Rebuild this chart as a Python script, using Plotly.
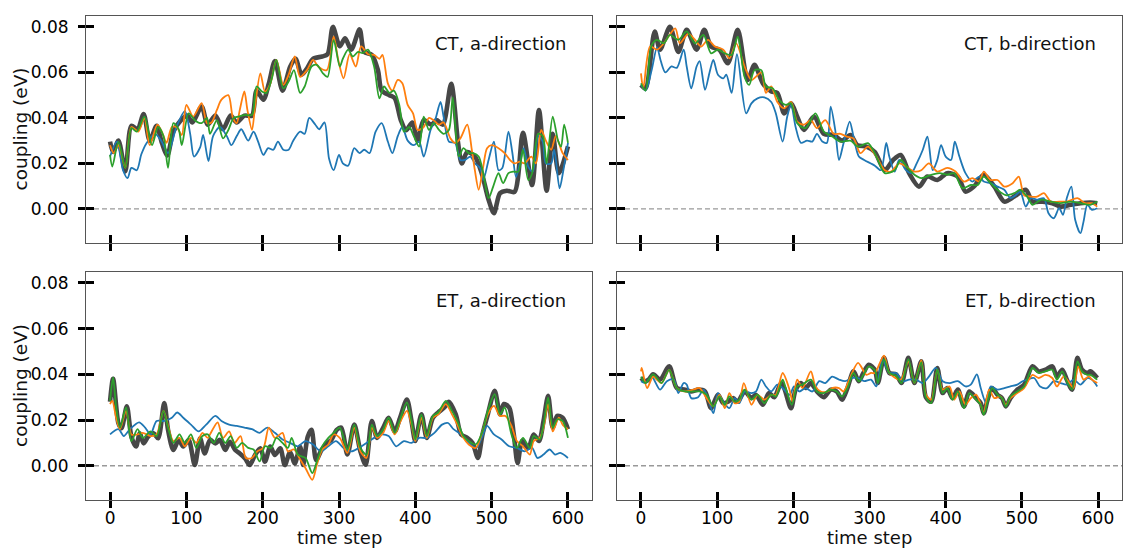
import numpy as np
import plotly.graph_objects as go

# ---------------- data (time step, coupling in meV) ----------------
# CT, a-direction
CT_A_REF_T = [0, 4, 11, 20, 28, 36, 44, 52, 61, 68, 75, 83, 93, 101, 108, 120, 128, 138, 148, 158, 166, 176, 186, 192, 201, 208, 216, 226, 236, 243, 251, 258, 266, 278, 285, 292, 301, 308, 316, 327, 333, 343, 351, 356, 366, 373, 381, 388, 396, 403, 411, 421, 428, 436, 447, 456, 461, 468, 478, 487, 496, 503, 511, 520, 530, 541, 553, 562, 572, 580, 588, 600]
CT_A_REF_V = [29.6, 25.0, 30.0, 16.5, 36.5, 35.0, 41.7, 30.0, 36.5, 29.0, 23.5, 34.0, 39.0, 41.0, 38.0, 45.0, 37.0, 41.0, 35.0, 41.0, 38.0, 41.0, 41.0, 52.0, 48.0, 55.0, 65.0, 52.0, 62.5, 66.0, 59.0, 61.7, 66.0, 67.0, 68.0, 80.0, 71.5, 75.0, 70.0, 78.9, 69.0, 67.7, 61.0, 52.0, 50.0, 48.7, 39.0, 34.6, 38.0, 30.0, 39.0, 37.0, 39.0, 37.0, 55.0, 29.0, 20.0, 25.0, 23.0, 15.7, 4.0, -1.9, 6.9, 8.0, 7.5, 33.5, 10.5, 43.5, 8.0, 33.0, 15.7, 27.5]
CT_A_S1_T = [0, 9, 17, 23, 28, 35, 41, 48, 59, 67, 76, 87, 98, 105, 110, 118, 122, 129, 135, 144, 153, 159, 166, 172, 181, 188, 194, 201, 207, 214, 220, 227, 234, 240, 249, 255, 261, 269, 274, 281, 287, 293, 300, 305, 312, 320, 327, 333, 340, 348, 356, 364, 370, 377, 383, 390, 398, 405, 411, 420, 426, 433, 437, 444, 452, 459, 465, 472, 478, 485, 489, 496, 503, 509, 514, 522, 527, 532, 537, 542, 548, 554, 561, 567, 571, 578, 582, 589, 594, 600]
CT_A_S1_V = [23.0, 29.6, 17.0, 13.5, 18.0, 17.0, 24.0, 29.0, 33.0, 30.0, 24.5, 36.0, 43.0, 33.0, 23.0, 27.0, 32.5, 21.0, 32.0, 36.0, 32.0, 28.0, 32.0, 35.0, 30.0, 34.0, 29.6, 23.7, 26.7, 26.0, 29.6, 26.0, 26.0, 30.0, 34.0, 33.0, 40.0, 37.0, 35.0, 38.0, 22.0, 17.0, 23.7, 20.0, 19.0, 26.7, 24.5, 26.0, 24.5, 34.0, 37.7, 29.6, 24.5, 32.0, 36.0, 30.0, 28.0, 29.6, 23.0, 34.7, 39.0, 47.0, 40.6, 29.6, 29.0, 21.5, 21.5, 23.0, 20.0, 17.9, 12.7, 21.5, 29.6, 17.0, 18.0, 34.0, 25.0, 14.0, 20.0, 26.7, 18.6, 16.4, 32.0, 29.6, 20.0, 20.0, 26.0, 9.0, 17.0, 29.0]
CT_A_S2_T = [0, 5, 11, 20, 28, 37, 45, 52, 62, 69, 74, 81, 87, 94, 100, 109, 120, 127, 133, 140, 146, 155, 161, 166, 170, 176, 180, 186, 190, 197, 203, 210, 218, 227, 234, 242, 249, 258, 266, 273, 284, 293, 299, 306, 314, 322, 329, 338, 346, 353, 357, 364, 370, 377, 383, 390, 397, 403, 411, 418, 424, 431, 437, 446, 452, 459, 468, 474, 478, 483, 489, 494, 500, 509, 517, 524, 530, 537, 543, 552, 558, 565, 571, 578, 584, 593, 600]
CT_A_S2_V = [28.0, 24.5, 28.0, 18.0, 36.0, 34.0, 40.0, 28.0, 37.0, 33.0, 29.0, 36.0, 36.0, 32.5, 45.7, 40.6, 46.5, 37.7, 38.0, 43.5, 48.0, 50.0, 40.0, 37.7, 43.5, 51.6, 43.5, 34.7, 45.0, 59.6, 51.6, 55.0, 65.5, 54.5, 59.0, 67.0, 58.0, 61.0, 65.5, 62.5, 61.0, 75.7, 65.5, 57.4, 68.0, 62.6, 71.4, 68.0, 67.7, 66.0, 67.7, 55.2, 52.0, 56.7, 55.2, 45.7, 42.0, 34.7, 36.0, 40.0, 39.0, 37.0, 38.0, 31.0, 29.0, 31.0, 37.0, 26.0, 17.0, 8.4, 18.6, 26.7, 28.0, 26.7, 24.5, 21.5, 20.0, 20.8, 20.0, 23.0, 20.0, 34.7, 30.0, 26.0, 32.0, 24.5, 21.5]
CT_A_S3_T = [0, 3, 11, 20, 28, 35, 45, 55, 63, 70, 76, 83, 90, 94, 103, 111, 120, 127, 131, 140, 148, 155, 162, 168, 177, 186, 192, 199, 205, 212, 218, 227, 234, 241, 249, 255, 264, 271, 279, 285, 293, 301, 305, 312, 318, 325, 331, 338, 346, 353, 359, 366, 372, 379, 385, 392, 398, 405, 411, 418, 424, 431, 437, 444, 449, 457, 463, 470, 476, 483, 489, 496, 502, 509, 515, 522, 528, 535, 541, 548, 553, 561, 567, 572, 580, 587, 591, 595, 600]
CT_A_S3_V = [23.7, 18.6, 29.6, 18.0, 35.5, 34.0, 40.6, 28.0, 36.0, 32.0, 18.0, 37.7, 35.0, 28.0, 42.0, 39.0, 37.7, 40.0, 33.0, 39.0, 31.0, 34.7, 40.0, 40.6, 41.3, 41.3, 53.8, 51.6, 51.0, 57.4, 65.5, 53.0, 56.0, 61.0, 51.0, 53.8, 62.6, 63.3, 59.6, 58.0, 74.3, 62.6, 66.0, 70.0, 67.0, 69.0, 68.5, 70.0, 62.6, 48.6, 53.8, 51.0, 52.0, 45.7, 34.0, 36.0, 32.0, 27.4, 40.6, 34.7, 37.7, 34.7, 33.0, 34.7, 49.0, 23.0, 26.7, 24.5, 24.5, 23.0, 15.7, 4.7, 9.8, 15.7, 11.3, 15.7, 16.4, 16.4, 26.0, 12.7, 15.7, 33.0, 32.0, 20.0, 40.6, 30.0, 27.4, 37.0, 29.0]

# CT, b-direction
CT_B_REF_T = [0, 6, 18, 25, 38, 49, 60, 73, 83, 92, 103, 114, 127, 140, 149, 160, 171, 179, 188, 197, 205, 214, 227, 240, 253, 264, 275, 284, 296, 307, 320, 331, 341, 352, 365, 376, 389, 402, 416, 426, 437, 450, 464, 477, 490, 505, 514, 527, 540, 551, 564, 577, 590, 599]
CT_B_REF_V = [54.5, 53.0, 78.0, 70.0, 80.0, 69.0, 78.7, 70.0, 78.7, 71.4, 70.0, 64.0, 78.7, 56.7, 63.3, 55.2, 51.6, 51.0, 42.0, 46.4, 40.6, 34.7, 40.6, 33.0, 32.5, 30.0, 32.5, 28.0, 27.4, 25.0, 17.0, 21.5, 23.7, 15.7, 9.8, 14.2, 12.7, 15.7, 14.2, 7.6, 9.8, 15.0, 9.8, 3.2, 5.4, 8.4, 3.2, 3.2, 2.5, 1.0, 1.8, 2.5, 2.8, 2.5]
CT_B_S1_T = [0, 6, 14, 21, 26, 32, 40, 47, 56, 60, 66, 73, 77, 84, 90, 95, 101, 108, 112, 119, 126, 138, 145, 153, 162, 171, 177, 186, 192, 197, 203, 210, 218, 225, 231, 238, 244, 249, 255, 260, 266, 274, 279, 286, 293, 307, 315, 322, 326, 333, 339, 348, 355, 362, 370, 376, 383, 389, 394, 400, 407, 412, 418, 426, 435, 444, 450, 459, 468, 477, 485, 492, 498, 505, 512, 520, 529, 535, 542, 549, 554, 559, 565, 570, 577, 581, 586, 592, 599]
CT_B_S1_V = [54.5, 52.0, 61.0, 71.0, 65.0, 60.0, 62.6, 62.0, 70.0, 62.6, 53.0, 62.6, 65.0, 52.3, 60.0, 65.5, 59.0, 57.4, 59.0, 51.0, 68.0, 42.0, 46.4, 48.6, 49.0, 47.0, 42.0, 29.6, 40.6, 45.7, 36.0, 29.0, 30.0, 29.6, 33.0, 29.6, 29.0, 45.0, 34.7, 21.5, 29.0, 38.4, 31.8, 23.0, 21.5, 19.0, 17.0, 29.0, 23.0, 16.4, 21.5, 17.0, 15.7, 20.0, 26.0, 31.8, 17.0, 21.5, 28.0, 23.0, 21.5, 29.6, 23.0, 15.7, 12.0, 14.2, 12.0, 11.3, 9.8, 8.4, 4.7, 6.0, 7.6, 1.0, 4.7, 4.0, 4.7, -1.9, -4.1, 0.3, -2.6, 4.7, 9.8, -4.8, -10.7, -5.6, 1.8, -0.4, 0.3]
CT_B_S2_T = [0, 3, 12, 21, 30, 45, 51, 62, 71, 79, 88, 97, 108, 116, 125, 136, 145, 158, 164, 171, 179, 188, 197, 205, 214, 223, 231, 242, 253, 262, 270, 279, 288, 298, 309, 320, 328, 339, 348, 359, 368, 378, 389, 402, 413, 424, 435, 444, 450, 459, 468, 477, 488, 496, 503, 512, 520, 529, 538, 549, 559, 573, 583, 592, 599]
CT_B_S2_V = [59.6, 53.0, 71.4, 70.0, 72.8, 79.4, 72.8, 77.0, 74.3, 71.4, 74.3, 71.4, 70.0, 66.2, 72.8, 62.6, 56.7, 60.0, 51.0, 53.8, 47.0, 44.2, 47.0, 38.4, 37.0, 39.0, 35.5, 39.0, 33.0, 33.0, 31.8, 31.0, 24.5, 27.4, 23.0, 17.0, 16.4, 20.0, 18.6, 16.4, 17.0, 20.0, 16.4, 18.0, 16.4, 12.0, 13.5, 12.0, 16.4, 12.7, 12.7, 9.8, 11.3, 14.2, 6.0, 5.4, 5.4, 6.9, 3.2, 3.2, 3.2, 4.7, 2.5, 2.5, 1.0]
CT_B_S3_T = [0, 6, 14, 21, 30, 38, 49, 60, 71, 82, 92, 101, 110, 119, 127, 136, 142, 149, 158, 164, 173, 181, 190, 197, 205, 216, 229, 240, 251, 262, 275, 285, 298, 309, 320, 333, 341, 350, 359, 368, 381, 392, 402, 411, 422, 433, 442, 450, 459, 468, 479, 490, 498, 507, 514, 525, 538, 551, 564, 577, 590, 599]
CT_B_S3_V = [55.2, 52.0, 72.0, 74.3, 72.8, 76.5, 74.3, 78.0, 72.8, 76.5, 68.4, 70.0, 68.4, 67.7, 75.7, 58.0, 54.5, 61.0, 61.0, 53.8, 53.0, 48.0, 45.7, 46.4, 37.7, 35.5, 42.0, 34.0, 31.8, 29.6, 30.0, 27.4, 28.9, 23.0, 15.7, 17.0, 21.5, 18.0, 15.0, 13.5, 15.0, 15.7, 15.0, 15.7, 9.1, 10.5, 10.5, 14.2, 11.3, 8.4, 6.0, 6.9, 8.4, 5.4, 1.8, 4.0, 3.2, 2.5, 3.2, 2.5, 1.8, 3.2]

# ET, a-direction
ET_A_REF_T = [0, 4, 11, 15, 22, 28, 34, 39, 44, 50, 57, 63, 71, 76, 83, 90, 96, 103, 111, 118, 124, 131, 138, 144, 151, 157, 164, 170, 177, 183, 190, 197, 203, 210, 216, 223, 229, 236, 242, 249, 253, 259, 264, 270, 277, 284, 290, 297, 303, 311, 320, 328, 335, 343, 350, 358, 365, 373, 380, 389, 395, 400, 408, 415, 423, 430, 438, 444, 453, 460, 468, 475, 482, 488, 495, 504, 511, 516, 523, 529, 534, 540, 548, 555, 562, 568, 574, 580, 586, 593, 600]
ET_A_REF_V = [28.0, 38.0, 18.6, 16.4, 26.0, 12.7, 8.4, 14.2, 9.8, 12.7, 14.2, 12.0, 27.4, 15.7, 6.9, 11.3, 8.4, 11.3, 0.3, 12.0, 5.4, 11.3, 9.8, 11.3, 6.9, 10.5, 6.9, 5.4, 3.2, 0.3, 4.7, 7.6, 1.8, 8.4, 4.7, 7.6, 0.3, 6.0, 1.0, 8.4, 0.3, 12.7, 15.7, 2.5, 6.9, 9.8, 11.3, 15.7, 16.7, 4.9, 18.0, 6.3, 0.4, 19.6, 12.2, 16.7, 21.0, 15.0, 21.0, 29.0, 19.6, 10.8, 22.5, 12.2, 21.0, 23.3, 25.5, 28.0, 22.5, 13.7, 12.2, 10.0, 3.4, 13.7, 22.5, 32.8, 22.5, 27.0, 25.5, 13.7, 1.2, 10.8, 7.8, 13.7, 10.8, 19.6, 30.6, 16.7, 21.8, 21.0, 16.0]
ET_A_S1_T = [0, 11, 18, 26, 38, 46, 53, 61, 71, 81, 88, 96, 106, 116, 126, 138, 146, 156, 166, 176, 186, 196, 206, 216, 226, 236, 246, 256, 266, 276, 286, 296, 306, 316, 326, 336, 346, 355, 365, 375, 385, 395, 405, 415, 425, 435, 443, 450, 460, 470, 480, 488, 494, 503, 513, 523, 533, 543, 553, 560, 568, 576, 583, 590, 600]
ET_A_S1_V = [13.7, 16.0, 13.0, 16.0, 19.0, 16.7, 13.7, 19.6, 19.6, 21.0, 23.3, 21.0, 18.0, 15.0, 18.0, 21.8, 19.6, 18.0, 17.4, 16.7, 16.0, 14.4, 16.7, 14.4, 11.5, 10.0, 8.5, 10.8, 9.3, 6.3, 8.5, 10.8, 7.8, 6.3, 7.8, 10.0, 12.2, 13.7, 13.0, 8.5, 10.8, 10.0, 12.2, 12.2, 14.4, 18.0, 18.7, 16.0, 13.7, 10.0, 7.8, 13.0, 17.4, 13.7, 11.5, 8.5, 7.8, 6.3, 7.8, 3.4, 4.9, 7.1, 4.9, 5.6, 3.4]
ET_A_S2_T = [0, 3, 8, 13, 21, 28, 36, 43, 53, 61, 70, 76, 83, 91, 98, 106, 113, 121, 128, 133, 141, 148, 156, 163, 171, 178, 186, 193, 201, 208, 216, 226, 233, 241, 248, 256, 265, 271, 278, 286, 293, 301, 311, 320, 328, 336, 343, 350, 358, 365, 373, 380, 389, 395, 400, 408, 415, 423, 430, 440, 448, 455, 463, 470, 479, 488, 495, 503, 511, 518, 526, 533, 541, 550, 555, 563, 568, 574, 580, 588, 593, 600]
ET_A_S2_V = [27.0, 28.4, 21.0, 16.0, 24.0, 13.7, 13.7, 14.4, 13.0, 13.7, 24.0, 17.4, 10.8, 12.2, 8.5, 12.2, 10.0, 14.4, 12.2, 15.0, 19.0, 12.2, 15.0, 10.0, 13.0, 3.4, 3.4, 6.3, 7.8, 16.7, 12.2, 14.4, 6.3, 7.1, 3.4, -1.0, -6.2, 0.4, 7.1, 9.3, 13.7, 12.2, 5.6, 16.7, 6.3, 3.4, 16.7, 12.2, 14.4, 19.6, 13.7, 19.0, 24.0, 18.0, 10.8, 21.0, 12.2, 21.0, 22.5, 27.0, 22.5, 18.0, 12.2, 9.3, 7.8, 15.0, 22.5, 26.2, 21.8, 21.8, 17.4, 10.8, 8.5, 4.9, 10.8, 12.2, 16.7, 27.0, 15.0, 21.0, 18.0, 16.0]
ET_A_S3_T = [0, 4, 8, 13, 21, 28, 36, 43, 53, 61, 70, 76, 83, 91, 98, 106, 113, 121, 128, 136, 143, 151, 158, 166, 173, 181, 188, 196, 203, 211, 218, 226, 233, 238, 246, 256, 265, 271, 278, 286, 293, 301, 311, 320, 328, 336, 343, 350, 358, 365, 373, 380, 389, 395, 400, 408, 415, 423, 430, 440, 448, 455, 463, 470, 479, 488, 495, 504, 511, 517, 526, 533, 541, 550, 555, 563, 568, 574, 580, 586, 593, 600]
ET_A_S3_V = [28.4, 38.7, 25.5, 16.7, 25.5, 10.8, 16.0, 12.2, 15.0, 13.0, 24.0, 16.7, 10.0, 13.7, 10.0, 13.7, 7.8, 13.0, 13.7, 10.0, 14.4, 10.0, 13.0, 7.8, 10.0, 7.8, 7.1, 1.9, 8.5, 7.8, 12.2, 10.0, 7.8, 12.2, 4.9, 3.4, -3.2, 1.9, 8.5, 12.2, 14.4, 16.7, 7.1, 18.0, 7.8, 4.9, 18.0, 13.0, 16.0, 21.0, 14.4, 20.3, 27.7, 19.6, 11.5, 22.5, 13.0, 21.8, 23.3, 28.4, 24.0, 19.6, 13.0, 10.8, 9.3, 15.0, 24.0, 31.3, 22.5, 25.5, 13.7, 7.8, 12.2, 7.8, 13.0, 11.5, 18.0, 29.8, 16.7, 20.3, 19.6, 12.2]

# ET, b-direction
ET_B_REF_T = [0, 6, 10, 16, 25, 37, 47, 58, 66, 75, 84, 92, 101, 108, 114, 121, 127, 136, 145, 151, 160, 168, 175, 184, 188, 197, 203, 210, 216, 223, 231, 240, 249, 257, 264, 271, 279, 286, 292, 299, 307, 311, 319, 326, 335, 342, 351, 359, 368, 374, 381, 389, 396, 402, 409, 416, 424, 431, 440, 446, 450, 455, 461, 468, 474, 479, 485, 494, 503, 514, 522, 531, 540, 546, 553, 559, 566, 573, 579, 586, 590, 599]
ET_B_REF_V = [38.4, 37.0, 37.7, 40.0, 37.7, 43.5, 34.0, 33.3, 32.5, 33.3, 32.5, 25.2, 31.0, 27.4, 28.0, 29.6, 28.0, 32.5, 29.6, 31.0, 26.7, 31.8, 30.0, 36.2, 34.0, 25.2, 33.3, 36.2, 34.0, 36.2, 32.5, 30.0, 33.3, 32.5, 28.9, 34.0, 41.3, 37.0, 40.6, 44.2, 42.0, 36.2, 47.2, 40.6, 40.0, 36.2, 47.2, 36.2, 45.7, 30.0, 28.0, 42.8, 31.8, 34.0, 29.6, 33.3, 26.0, 32.5, 29.6, 27.4, 23.0, 28.9, 34.0, 31.0, 29.6, 26.0, 29.6, 33.3, 35.5, 43.5, 41.3, 42.0, 43.5, 39.0, 42.0, 37.7, 33.3, 47.2, 42.0, 40.6, 41.3, 38.4]
ET_B_S1_T = [0, 6, 14, 25, 34, 43, 49, 56, 60, 66, 75, 82, 88, 95, 101, 108, 116, 123, 129, 136, 145, 151, 158, 164, 171, 179, 186, 195, 201, 208, 216, 225, 234, 242, 251, 260, 268, 277, 285, 293, 302, 309, 317, 326, 335, 344, 352, 361, 370, 378, 387, 396, 405, 416, 426, 433, 441, 446, 453, 459, 468, 477, 485, 494, 501, 507, 516, 524, 533, 542, 551, 559, 568, 577, 586, 592, 599]
ET_B_S1_V = [37.0, 36.2, 39.0, 33.3, 37.0, 37.7, 31.8, 36.2, 35.5, 29.6, 30.0, 33.3, 29.6, 23.0, 31.8, 28.0, 25.2, 29.6, 27.4, 32.5, 31.8, 32.5, 37.7, 34.7, 32.5, 35.5, 34.0, 31.0, 34.7, 32.5, 34.0, 32.5, 37.0, 36.2, 39.0, 37.7, 37.0, 38.4, 38.4, 37.0, 37.7, 34.7, 46.5, 40.6, 40.6, 37.0, 37.7, 37.7, 36.2, 39.0, 42.8, 37.0, 36.2, 37.0, 34.7, 35.5, 40.0, 34.0, 27.4, 34.7, 33.3, 34.0, 34.7, 35.5, 37.0, 37.7, 38.4, 34.7, 34.0, 37.0, 36.2, 35.5, 37.7, 35.5, 38.4, 37.7, 34.7]
ET_B_S2_T = [0, 1, 8, 16, 27, 37, 47, 58, 69, 77, 86, 95, 103, 110, 116, 123, 129, 135, 145, 153, 162, 171, 177, 186, 195, 199, 205, 212, 223, 229, 236, 245, 251, 260, 266, 275, 285, 296, 302, 307, 319, 326, 341, 351, 359, 368, 374, 381, 389, 396, 405, 411, 418, 426, 433, 440, 446, 450, 457, 464, 472, 479, 485, 494, 503, 514, 522, 531, 540, 546, 555, 564, 568, 574, 581, 588, 592, 599]
ET_B_S2_V = [41.3, 42.8, 34.0, 39.0, 36.2, 42.0, 34.0, 32.5, 33.3, 34.0, 29.6, 26.0, 31.0, 25.2, 31.8, 27.4, 28.0, 36.2, 26.7, 31.0, 28.9, 31.0, 31.0, 40.6, 33.3, 28.0, 37.7, 34.0, 41.3, 34.7, 32.5, 32.5, 34.0, 34.0, 32.5, 39.0, 45.0, 39.8, 40.6, 40.6, 48.2, 40.6, 37.7, 45.7, 36.2, 46.2, 31.1, 28.9, 42.0, 33.3, 34.7, 28.9, 32.5, 26.7, 29.6, 31.1, 26.7, 23.0, 33.3, 29.6, 30.3, 26.7, 29.6, 31.8, 34.0, 39.8, 38.4, 39.8, 38.4, 34.7, 39.1, 35.5, 34.0, 43.5, 37.7, 39.1, 37.7, 36.2]
ET_B_S3_T = [0, 6, 16, 27, 37, 47, 58, 69, 77, 86, 95, 103, 110, 116, 123, 129, 136, 145, 153, 162, 171, 177, 186, 190, 198, 205, 212, 223, 231, 240, 249, 257, 264, 271, 279, 286, 292, 299, 307, 311, 319, 326, 335, 342, 351, 359, 368, 374, 381, 389, 396, 402, 409, 416, 424, 431, 440, 446, 450, 455, 461, 468, 474, 479, 485, 494, 503, 514, 522, 531, 540, 546, 553, 559, 566, 573, 579, 586, 590, 599]
ET_B_S3_V = [39.0, 36.2, 40.0, 36.2, 42.0, 34.0, 32.5, 32.5, 32.5, 31.1, 26.0, 30.3, 26.7, 30.3, 28.1, 28.9, 33.3, 28.9, 31.1, 27.4, 31.1, 30.3, 37.7, 34.0, 26.7, 34.7, 35.5, 37.7, 32.5, 31.8, 33.3, 32.5, 30.3, 34.0, 40.6, 36.9, 39.8, 43.5, 41.8, 36.2, 46.7, 40.6, 39.4, 36.2, 46.7, 36.2, 45.3, 30.0, 27.4, 42.3, 31.8, 34.0, 28.9, 32.5, 25.2, 31.8, 28.9, 26.7, 22.3, 28.1, 34.0, 31.1, 29.6, 25.9, 30.3, 32.5, 34.7, 42.8, 40.6, 41.3, 42.0, 37.7, 41.3, 36.9, 33.3, 45.7, 41.3, 39.8, 39.8, 37.7]

PANEL_LABELS = ["CT, a-direction", "CT, b-direction", "ET, a-direction", "ET, b-direction"]
Y_TICKS = [0.00, 0.02, 0.04, 0.06, 0.08]
X_TICKS = [0, 100, 200, 300, 400, 500, 600]

panels = [
    [(CT_A_REF_T, CT_A_REF_V), (CT_A_S1_T, CT_A_S1_V), (CT_A_S2_T, CT_A_S2_V), (CT_A_S3_T, CT_A_S3_V)],
    [(CT_B_REF_T, CT_B_REF_V), (CT_B_S1_T, CT_B_S1_V), (CT_B_S2_T, CT_B_S2_V), (CT_B_S3_T, CT_B_S3_V)],
    [(ET_A_REF_T, ET_A_REF_V), (ET_A_S1_T, ET_A_S1_V), (ET_A_S2_T, ET_A_S2_V), (ET_A_S3_T, ET_A_S3_V)],
    [(ET_B_REF_T, ET_B_REF_V), (ET_B_S1_T, ET_B_S1_V), (ET_B_S2_T, ET_B_S2_V), (ET_B_S3_T, ET_B_S3_V)],
]

# ---------------- styling ----------------
W, H = 1123, 550
FONT = "DejaVu Sans"
X_RANGE = [-31.5, 631.5]
Y_RANGE = [-0.0150, 0.0848]
line_styles = [
    dict(color="rgba(55,55,55,0.92)", width=4.6),
    dict(color="#1f77b4", width=1.8),
    dict(color="#ff7f0e", width=1.8),
    dict(color="#2ca02c", width=1.8),
]

# pixel boxes of the four panels (left, right, top, bottom)
boxes = [(86, 592, 16, 243), (617, 1122, 16, 243), (86, 592, 272, 500), (617, 1122, 272, 500)]

fig = go.Figure()
layout = dict(
    width=W, height=H,
    margin=dict(l=0, r=0, t=0, b=0),
    paper_bgcolor="white", plot_bgcolor="white",
    showlegend=False,
    font=dict(family=FONT, size=17, color="black"),
    annotations=[], shapes=[],
)

TICK_W = 2.6
for i, (series, label, box) in enumerate(zip(panels, PANEL_LABELS, boxes)):
    k = "" if i == 0 else str(i + 1)
    ko = str(i + 5)  # overlay axes carrying the inward half of the ticks
    xa, ya = "x" + k, "y" + k
    xo, yo = "x" + ko, "y" + ko
    l, r, t, b = box
    for (ts, vs), st in zip(series, line_styles):
        fig.add_trace(go.Scatter(
            x=ts, y=np.array(vs) / 1000.0, mode="lines",
            line=dict(color=st["color"], width=st["width"], shape="spline", smoothing=0.8),
            xaxis=xa, yaxis=ya, hoverinfo="skip",
        ))
    # empty trace so that the overlay axes get drawn
    fig.add_trace(go.Scatter(x=[None], y=[None], mode="lines", xaxis=xo, yaxis=yo,
                             hoverinfo="skip", showlegend=False))
    bottom_row = i >= 2
    left_col = i % 2 == 0
    layout["xaxis" + k] = dict(
        domain=[l / W, r / W], anchor=ya, range=X_RANGE,
        tickmode="array", tickvals=X_TICKS, ticktext=[str(v) for v in X_TICKS],
        showticklabels=bottom_row, ticks="outside", ticklen=7, tickwidth=TICK_W, tickcolor="black",
        showline=True, linecolor="#555", linewidth=1, mirror=True,
        showgrid=False, zeroline=False, tickfont=dict(size=17), ticklabelstandoff=-4,
    )
    layout["yaxis" + k] = dict(
        domain=[1 - b / H, 1 - t / H], anchor=xa, range=Y_RANGE,
        tickmode="array", tickvals=Y_TICKS, ticktext=["%.2f" % v for v in Y_TICKS],
        showticklabels=left_col, ticks="outside", ticklen=7, tickwidth=TICK_W, tickcolor="black",
        showline=True, linecolor="#555", linewidth=1, mirror=True,
        showgrid=False, zeroline=False, tickfont=dict(size=17), ticklabelstandoff=6,
    )
    layout["xaxis" + ko] = dict(
        overlaying=xa, anchor=yo, range=X_RANGE, side="bottom",
        tickmode="array", tickvals=X_TICKS, showticklabels=False,
        ticks="inside", ticklen=8, tickwidth=TICK_W, tickcolor="black",
        showline=False, showgrid=False, zeroline=False,
    )
    layout["yaxis" + ko] = dict(
        overlaying=ya, anchor=xo, range=Y_RANGE, side="left",
        tickmode="array", tickvals=Y_TICKS, showticklabels=False,
        ticks="inside", ticklen=8, tickwidth=TICK_W, tickcolor="black",
        showline=False, showgrid=False, zeroline=False,
    )
    layout["shapes"].append(dict(
        type="line", xref=xa + " domain", yref=ya, x0=0, x1=1, y0=0, y1=0,
        line=dict(color="#999999", width=1.3, dash="5px,3px"), layer="below",
    ))
    layout["annotations"].append(dict(
        text=label, xref=xa + " domain", yref=ya + " domain", x=0.952, y=0.877,
        xanchor="right", yanchor="middle", showarrow=False, font=dict(size=18, color="#111"),
    ))
    if left_col:
        layout["annotations"].append(dict(
            text="coupling (eV)", xref="paper", yref="paper", x=20 / W, y=1 - (t + b) / 2 / H,
            xanchor="center", yanchor="middle", textangle=-90, showarrow=False,
            font=dict(size=18.5, color="#111"),
        ))
    if bottom_row:
        layout["annotations"].append(dict(
            text="time step", xref="paper", yref="paper", x=(l + r) / 2 / W, y=0.0,
            xanchor="center", yanchor="bottom", showarrow=False,
            font=dict(size=18, color="#111"),
        ))

fig.update_layout(**layout)
fig.write_html("out.html")
